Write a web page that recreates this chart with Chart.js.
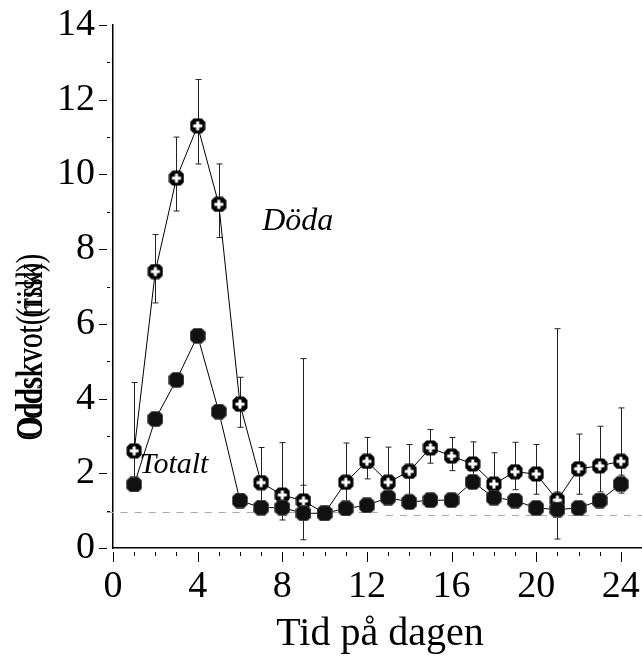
<!DOCTYPE html>
<html>
<head>
<meta charset="utf-8">
<script src="https://cdn.jsdelivr.net/npm/chart.js@4.4.1/dist/chart.umd.min.js"></script>
<style>
html,body{margin:0;padding:0;background:#fff;}
#wrap{width:642px;height:662px;}
</style>
</head>
<body>
<div id="wrap"><canvas id="c" width="642" height="662"></canvas></div>
<script>
// ---- data ----
const hours = [1,2,3,4,5,6,7,8,9,10,11,12,13,14,15,16,17,18,19,20,21,22,23,24];
const doda      = [2.6, 7.4, 9.9, 11.3, 9.2, 3.85, 1.75, 1.42, 1.26, 0.93, 1.76, 2.32, 1.76, 2.05, 2.68, 2.46, 2.25, 1.71, 2.04, 1.98, 1.28, 2.12, 2.2, 2.32];
const dodaHigh  = [4.43, 8.39, 11.0, 12.54, 10.28, 4.57, 2.69, 2.82, 5.07, 1.0, 2.81, 2.96, 2.7, 2.77, 3.17, 2.96, 2.84, 2.55, 2.83, 2.77, 5.87, 3.05, 3.26, 3.75];
const dodaLow   = [1.7, 6.56, 9.02, 10.28, 8.31, 3.23, 1.2, 0.75, 0.9, 0.85, 1.2, 1.85, 1.3, 1.44, 2.27, 2.07, 1.6, 1.2, 1.56, 1.44, 0.9, 1.44, 1.5, 1.6];
const totalt     = [1.7, 3.45, 4.5, 5.68, 3.65, 1.27, 1.08, 1.08, 0.93, 0.93, 1.06, 1.14, 1.35, 1.23, 1.28, 1.28, 1.77, 1.35, 1.27, 1.07, 1.03, 1.07, 1.27, 1.71];
const totaltHigh = [1.8, 3.55, 4.6, 5.78, 3.75, 1.36, 1.18, 1.2, 1.68, 1.0, 1.15, 1.23, 1.45, 1.33, 1.38, 1.38, 1.9, 1.45, 1.36, 1.16, 1.5, 1.16, 1.36, 1.95];
const totaltLow  = [1.6, 3.35, 4.4, 5.58, 3.55, 1.18, 0.98, 0.98, 0.22, 0.85, 0.98, 1.05, 1.25, 1.13, 1.2, 1.2, 1.65, 1.25, 1.18, 0.98, 0.24, 0.98, 1.18, 1.47];
const refLeft  = [{x:-0.3, y:0.95}, {x:12.5, y:0.95}];
const refRight = [{x:12.9, y:0.87}, {x:25, y:0.87}];
const xTickLabels = [0,4,8,12,16,20,24];
const yTickLabels = [0,2,4,6,8,10,12,14];
const seriesNames = ['Döda','Totalt'];
const xTitle = 'Tid på dagen';
const yTitle = 'Oddskvot (risk)';

const SERIF = '"Liberation Serif", "Times New Roman", serif';

function octagon(ctx, cx, cy, r, cut){
  ctx.beginPath();
  ctx.moveTo(cx - r + cut, cy - r);
  ctx.lineTo(cx + r - cut, cy - r);
  ctx.lineTo(cx + r, cy - r + cut);
  ctx.lineTo(cx + r, cy + r - cut);
  ctx.lineTo(cx + r - cut, cy + r);
  ctx.lineTo(cx - r + cut, cy + r);
  ctx.lineTo(cx - r, cy + r - cut);
  ctx.lineTo(cx - r, cy - r + cut);
  ctx.closePath();
}
function makeOpen(){
  const c = document.createElement('canvas'); c.width = 16; c.height = 16;
  const g = c.getContext('2d');
  g.fillStyle = '#000'; octagon(g, 8, 8, 7.5, 3.5); g.fill();
  g.fillStyle = '#fff';
  g.fillRect(6.5, 3.5, 3, 9);
  g.fillRect(3.5, 6.5, 9, 3);
  return c;
}
function makeFilled(){
  const c = document.createElement('canvas'); c.width = 16; c.height = 16;
  const g = c.getContext('2d');
  g.fillStyle = '#111'; octagon(g, 8, 8, 7.5, 3.5); g.fill();
  g.strokeStyle = '#555'; g.lineWidth = 0.8; g.stroke();
  return c;
}
const openMarker = makeOpen();
const filledMarker = makeFilled();

const errors = [
  {ds: 0, lo: dodaLow, hi: dodaHigh},
  {ds: 1, lo: totaltLow, hi: totaltHigh}
];

const customPlugin = {
  id: 'custom',
  beforeDatasetsDraw(chart){
    const ctx = chart.ctx, xs = chart.scales.x, ys = chart.scales.y;
    ctx.save();
    ctx.strokeStyle = '#222'; ctx.lineWidth = 1;
    errors.forEach(e => {
      hours.forEach((h, i) => {
        const px = Math.round(xs.getPixelForValue(h)) + 0.5;
        const y1 = ys.getPixelForValue(e.lo[i]);
        const y2 = ys.getPixelForValue(e.hi[i]);
        ctx.beginPath();
        ctx.moveTo(px, y1); ctx.lineTo(px, y2);
        ctx.moveTo(px - 3, y1); ctx.lineTo(px + 3, y1);
        ctx.moveTo(px - 3, y2); ctx.lineTo(px + 3, y2);
        ctx.stroke();
      });
    });
    ctx.restore();
  },
  afterDraw(chart){
    const ctx = chart.ctx, xs = chart.scales.x, ys = chart.scales.y;
    const ca = chart.chartArea;
    ctx.save();
    ctx.strokeStyle = '#000'; ctx.lineWidth = 1;
    for (let v = 0; v <= 14; v++) {
      const py = Math.round(ys.getPixelForValue(v)) + 0.5;
      ctx.beginPath();
      if (v % 2 === 0) { ctx.moveTo(ca.left - 14, py); ctx.lineTo(ca.left - 6, py); }
      else { ctx.moveTo(ca.left - 6, py); ctx.lineTo(ca.left - 3, py); }
      ctx.stroke();
    }
    for (let v = 0; v <= 24; v++) {
      const px = Math.round(xs.getPixelForValue(v)) + 0.5;
      ctx.beginPath();
      if (v % 4 === 0) { ctx.moveTo(px, ca.bottom + 4); ctx.lineTo(px, ca.bottom + 14); }
      else { ctx.moveTo(px, ca.bottom + 4); ctx.lineTo(px, ca.bottom + 8); }
      ctx.stroke();
    }
    ctx.fillStyle = '#000';
    ctx.font = '40px ' + SERIF;
    ctx.textAlign = 'center'; ctx.textBaseline = 'middle';
    ctx.fillText(xTitle, 380, 634);
    ctx.save();
    ctx.translate(32, 347);
    ctx.rotate(-Math.PI / 2);
    ctx.scale(0.78, 1);
    ctx.font = '38px ' + SERIF;
    ctx.fillText(yTitle, 0, 0);
    ctx.font = '37px ' + SERIF;
    ctx.fillText('Oddskvot(risk)', -4, 0);
    ctx.restore();
    ctx.font = 'italic 32px ' + SERIF;
    ctx.textAlign = 'left'; ctx.textBaseline = 'middle';
    ctx.fillText(seriesNames[0], xs.getPixelForValue(7.05), ys.getPixelForValue(8.75));
    ctx.font = 'italic 30px ' + SERIF;
    ctx.fillText(seriesNames[1], xs.getPixelForValue(1.25), ys.getPixelForValue(2.22));
    ctx.restore();
  }
};

new Chart(document.getElementById('c'), {
  type: 'line',
  data: {
    datasets: [
      {label: seriesNames[0], data: hours.map((h,i)=>({x:h, y:doda[i]})),
       borderColor: '#000', borderWidth: 1, pointStyle: openMarker, pointRadius: 8, order: 1},
      {label: seriesNames[1], data: hours.map((h,i)=>({x:h, y:totalt[i]})),
       borderColor: '#000', borderWidth: 1, pointStyle: filledMarker, pointRadius: 8, order: 0},
      {label: 'ref1', data: refLeft, borderColor: '#aaa', borderWidth: 1.2, borderDash: [7,7],
       pointRadius: 0, clip: false, order: 5},
      {label: 'ref2', data: refRight, borderColor: '#aaa', borderWidth: 1.2, borderDash: [7,7],
       pointRadius: 0, clip: false, order: 5}
    ]
  },
  options: {
    responsive: false,
    animation: false,
    devicePixelRatio: 1,
    layout: {autoPadding: false, padding: {top: 25, right: 0, left: 0, bottom: 0}},
    plugins: {legend: {display: false}, tooltip: {enabled: false}},
    elements: {line: {tension: 0}},
    scales: {
      x: {
        type: 'linear', min: 0, max: 25,
        afterFit: s => { s.height = 114; s.paddingLeft = 0; s.paddingRight = 0; },
        afterBuildTicks: s => { s.ticks = xTickLabels.map(v => ({value: v})); },
        ticks: {font: {family: SERIF, size: 38}, color: '#000', padding: 16, maxRotation: 0, autoSkip: false},
        grid: {display: false, drawTicks: false},
        border: {display: true, color: '#000', width: 1.5}
      },
      y: {
        type: 'linear', min: 0, max: 14,
        afterFit: s => { s.width = 113; s.paddingTop = 0; s.paddingBottom = 0; },
        afterBuildTicks: s => { s.ticks = yTickLabels.map(v => ({value: v})); },
        ticks: {font: {family: SERIF, size: 38}, color: '#000', padding: 18, autoSkip: false},
        grid: {display: false, drawTicks: false},
        border: {display: true, color: '#000', width: 1.5}
      }
    }
  },
  plugins: [customPlugin]
});
</script>
</body>
</html>
